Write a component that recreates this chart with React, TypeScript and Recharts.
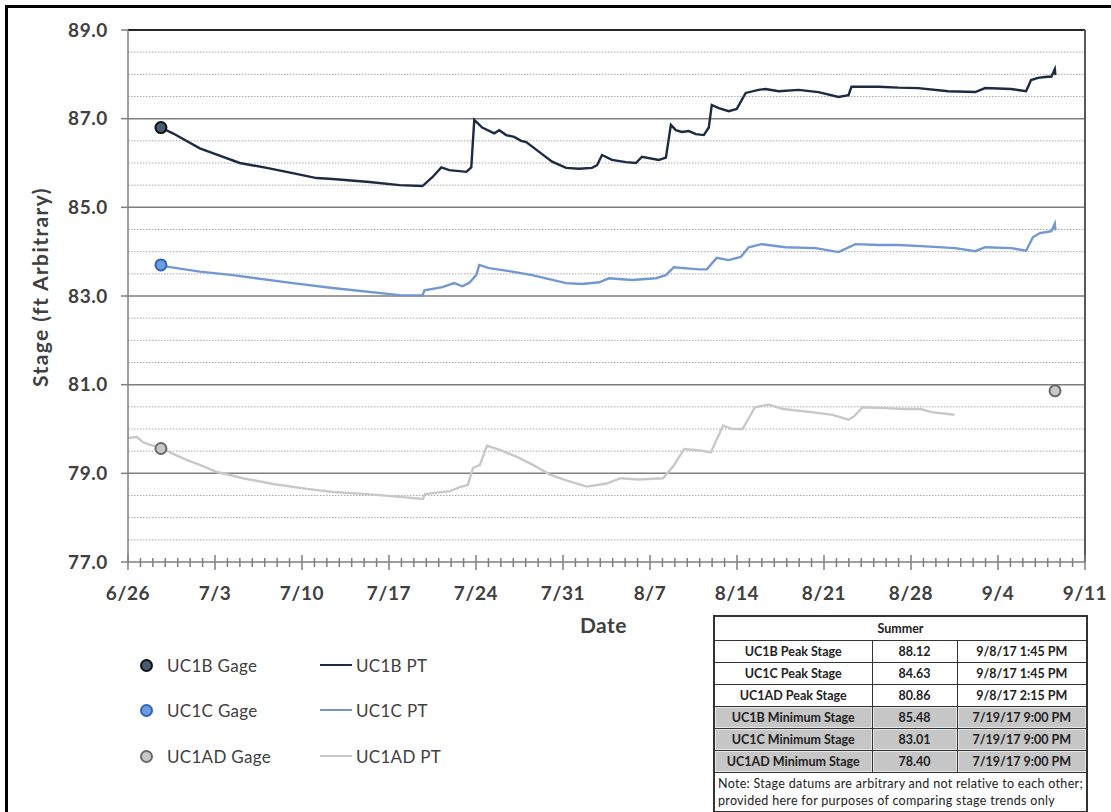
import React from 'react';
import { ComposedChart, Line, Scatter, XAxis, YAxis, CartesianGrid, ReferenceLine } from 'recharts';

// x values are days since 6/26/17
const dateLabels = ['6/26', '7/3', '7/10', '7/17', '7/24', '7/31', '8/7', '8/14', '8/21', '8/28', '9/4', '9/11'];
const dayTicks = Array.from({ length: 78 }, (_, i) => i);
const stageTicks = [77, 79, 81, 83, 85, 87, 89];
const gridStages = [77.5, 78, 78.5, 79, 79.5, 80, 80.5, 81, 81.5, 82, 82.5, 83, 83.5, 84, 84.5, 85, 85.5, 86, 86.5, 87, 87.5, 88, 88.5];

const uc1bDay = [2.71, 3.61, 5.78, 6.82, 8.99, 11.16, 13.25, 15.17, 16.46, 19.43, 21.84, 23.69, 24.49, 25.21, 25.85, 27.22, 27.62, 27.86, 28.5, 29.47, 29.87, 30.43, 31.07, 31.63, 32.04, 33.08, 34.12, 35.25, 36.29, 37.33, 37.74, 38.14, 38.94, 40.06, 40.87, 41.35, 42.71, 43.28, 43.68, 44.08, 44.56, 45.12, 45.69, 46.33, 46.73, 46.97, 47.53, 48.33, 48.98, 49.7, 50.74, 51.3, 52.35, 53.95, 55.56, 57.17, 57.97, 58.21, 60.38, 61.98, 63.59, 65.99, 68.17, 68.97, 71.06, 72.26, 72.66, 73.22, 73.78, 74.3, 74.57, 74.62];
const uc1bStage = [86.79, 86.67, 86.33, 86.22, 86.0, 85.89, 85.77, 85.66, 85.64, 85.57, 85.5, 85.48, 85.68, 85.9, 85.84, 85.8, 85.9, 86.97, 86.8, 86.67, 86.74, 86.63, 86.59, 86.5, 86.47, 86.25, 86.03, 85.89, 85.87, 85.89, 85.95, 86.18, 86.07, 86.02, 86.0, 86.14, 86.07, 86.12, 86.86, 86.74, 86.7, 86.72, 86.65, 86.63, 86.8, 87.31, 87.24, 87.17, 87.22, 87.58, 87.65, 87.67, 87.62, 87.65, 87.6, 87.49, 87.53, 87.72, 87.72, 87.7, 87.69, 87.62, 87.6, 87.69, 87.67, 87.62, 87.87, 87.92, 87.94, 87.95, 88.12, 87.98];

const uc1cDay = [2.71, 5.78, 8.43, 13.25, 16.46, 21.84, 23.69, 23.85, 25.29, 26.25, 26.9, 27.46, 28.02, 28.26, 29.06, 30.67, 32.52, 35.25, 36.53, 37.9, 38.7, 40.55, 42.47, 43.28, 43.92, 45.93, 46.57, 47.37, 48.33, 49.3, 49.94, 50.98, 52.91, 55.32, 57.17, 58.53, 60.38, 61.98, 64.15, 66.56, 68.17, 68.97, 71.06, 72.26, 72.82, 73.38, 74.03, 74.3, 74.57, 74.62];
const uc1cStage = [83.68, 83.55, 83.47, 83.29, 83.18, 83.02, 83.01, 83.13, 83.2, 83.29, 83.22, 83.3, 83.47, 83.7, 83.63, 83.56, 83.47, 83.29, 83.27, 83.31, 83.4, 83.36, 83.4, 83.47, 83.65, 83.6, 83.6, 83.86, 83.81, 83.88, 84.1, 84.17, 84.1, 84.08, 83.99, 84.17, 84.15, 84.15, 84.12, 84.08, 84.01, 84.1, 84.08, 84.02, 84.33, 84.42, 84.45, 84.46, 84.63, 84.48];

const uc1adDay = [0, 0.72, 1.21, 1.77, 2.57, 3.54, 4.75, 5.79, 7.16, 9.25, 11.67, 14.4, 16.49, 19.23, 21.88, 23.73, 23.89, 25.9, 26.71, 27.35, 27.76, 28.32, 28.88, 29.93, 31.3, 32.58, 33.95, 35.37, 36.93, 38.5, 39.64, 41.05, 43.05, 43.9, 44.75, 46.17, 46.89, 47.88, 48.59, 49.45, 50.44, 51.57, 52.71, 54.99, 56.69, 57.97, 58.4, 59.11, 60.96, 62.38, 63.8, 64.65, 66.5];
const uc1adStage = [79.8, 79.82, 79.7, 79.64, 79.59, 79.45, 79.3, 79.19, 79.03, 78.89, 78.76, 78.65, 78.58, 78.53, 78.47, 78.42, 78.53, 78.6, 78.69, 78.74, 79.12, 79.19, 79.62, 79.53, 79.37, 79.19, 78.97, 78.83, 78.7, 78.77, 78.89, 78.86, 78.89, 79.17, 79.55, 79.51, 79.47, 80.08, 80.0, 80.0, 80.49, 80.55, 80.45, 80.38, 80.32, 80.21, 80.28, 80.49, 80.47, 80.45, 80.45, 80.38, 80.32];

const uc1bGageDay = [2.65];
const uc1bGageStage = [86.8];
const uc1cGageDay = [2.65];
const uc1cGageStage = [83.7];
const uc1adGageDay = [2.65, 74.59];
const uc1adGageStage = [79.56, 80.86];

const summaryRows = [
  ['UC1B Peak Stage', '88.12', '9/8/17 1:45 PM'],
  ['UC1C Peak Stage', '84.63', '9/8/17 1:45 PM'],
  ['UC1AD Peak Stage', '80.86', '9/8/17 2:15 PM'],
  ['UC1B Minimum Stage', '85.48', '7/19/17 9:00 PM'],
  ['UC1C Minimum Stage', '83.01', '7/19/17 9:00 PM'],
  ['UC1AD Minimum Stage', '78.40', '7/19/17 9:00 PM'],
];

const toPoints = (days: number[], stage: number[]) => days.map((d, i) => ({ day: d, stage: stage[i] }));

const FONT = 'Lato, "Open Sans", sans-serif';
const TEXT = '#404040';

const DayTick = (props: any) => {
  const { x, y, payload } = props;
  const major = payload.value % 7 === 0;
  return (
    <g>
      <line x1={x} x2={x} y1={major ? y - 7 : y - 4} y2={major ? y + 8 : y + 5} stroke="#7f7f7f" strokeWidth={1.5} />
      {major && (
        <text x={x} y={y + 38} textAnchor="middle" fill={TEXT} fontSize={19} fontWeight={700} letterSpacing={0.6} fontFamily={FONT}>
          {dateLabels[payload.value / 7]}
        </text>
      )}
    </g>
  );
};

const YTitle = (props: any) => {
  const vb = props.viewBox || { x: 8, y: 30, width: 120, height: 530 };
  const cx = vb.x + 31;
  const cy = vb.y + vb.height / 2 - 9;
  return (
    <text x={cx} y={cy} transform={`rotate(-90 ${cx} ${cy})`} textAnchor="middle" dominantBaseline="central" fill={TEXT} fontSize={21} fontWeight={700} letterSpacing={1.4} fontFamily={FONT}>
      Stage (ft Arbitrary)
    </text>
  );
};

const XTitle = (props: any) => {
  const vb = props.viewBox || { x: 128, y: 560, width: 957, height: 50 };
  return (
    <text x={vb.x + vb.width / 2 - 3} y={vb.y + 71} textAnchor="middle" fill={TEXT} fontSize={21} fontWeight={700} letterSpacing={0.5} fontFamily={FONT}>
      Date
    </text>
  );
};

const gridLine = (p: any) => {
  const v = gridStages[p.index];
  const major = v % 2 === 1;
  return (
    <line key={p.key} x1={p.x1} x2={p.x2} y1={p.y1} y2={p.y2}
      stroke={major ? '#7f7f7f' : '#a8a8a8'} strokeWidth={major ? 1.5 : 1}
      strokeDasharray={major ? undefined : '1.5 1.5'} />
  );
};

const gageShape = (fill: string, stroke: string) => (p: any) => (
  <circle cx={p.cx} cy={p.cy} r={5.5} fill={fill} stroke={stroke} strokeWidth={2} />
);

const legendGage = [
  { name: 'UC1B Gage', fill: '#4a5b74', stroke: '#111111' },
  { name: 'UC1C Gage', fill: '#6f9be0', stroke: '#2f62c0' },
  { name: 'UC1AD Gage', fill: '#c8c8c8', stroke: '#6a6a6a' },
];
const legendPT = [
  { name: 'UC1B PT', color: '#1c2a44' },
  { name: 'UC1C PT', color: '#7397d2' },
  { name: 'UC1AD PT', color: '#c8c8c8' },
];
const legendRowY = [665, 710, 756];

export default function App() {
  const cell: React.CSSProperties = { border: '1px solid #333', height: 21, padding: 0, textAlign: 'center' };
  return (
    <div style={{ position: 'absolute', left: 0, top: 0, width: 1111, height: 812, overflow: 'hidden', background: '#fff', fontFamily: FONT }}>
      <div style={{ position: 'absolute', left: 5, top: 5, width: 1140, height: 840, border: '3px solid #000' }} />
      <div style={{ position: 'absolute', left: 0, top: 0 }}>
        <ComposedChart width={1111} height={640} margin={{ top: 30, right: 26, bottom: 28, left: 8 }}>
          <CartesianGrid vertical={false} horizontalValues={gridStages} horizontal={gridLine} />
          <XAxis type="number" dataKey="day" domain={[0, 77]} ticks={dayTicks} interval={0} allowDataOverflow
            tick={(p: any) => <DayTick {...p} />} tickLine={false} tickSize={0} tickMargin={0} height={50}
            axisLine={{ stroke: '#7f7f7f', strokeWidth: 1.5 }} label={<XTitle />} />
          <YAxis type="number" domain={[77, 89]} ticks={stageTicks} interval={0} allowDataOverflow width={120}
            tickFormatter={(v: number) => v.toFixed(1)}
            tick={{ fill: TEXT, fontSize: 19, fontWeight: 700, fontFamily: FONT, letterSpacing: 0.6 }}
            tickLine={{ stroke: '#7f7f7f', strokeWidth: 1.5 }} tickSize={7} tickMargin={13}
            axisLine={{ stroke: '#7f7f7f', strokeWidth: 1.5 }} label={<YTitle />} />
          <ReferenceLine y={89} stroke="#262626" strokeWidth={2} />
          <ReferenceLine x={77} stroke="#595959" strokeWidth={2} />
          <Line data={toPoints(uc1adDay, uc1adStage)} dataKey="stage" type="linear" stroke="#c8c8c8" strokeWidth={2.4} dot={false} isAnimationActive={false} />
          <Line data={toPoints(uc1cDay, uc1cStage)} dataKey="stage" type="linear" stroke="#7397d2" strokeWidth={2.4} dot={false} isAnimationActive={false} />
          <Line data={toPoints(uc1bDay, uc1bStage)} dataKey="stage" type="linear" stroke="#1c2a44" strokeWidth={2.4} dot={false} isAnimationActive={false} />
          <Scatter data={toPoints(uc1bGageDay, uc1bGageStage)} dataKey="stage" shape={gageShape('#4a5b74', '#111111')} isAnimationActive={false} />
          <Scatter data={toPoints(uc1cGageDay, uc1cGageStage)} dataKey="stage" shape={gageShape('#6f9be0', '#2f62c0')} isAnimationActive={false} />
          <Scatter data={toPoints(uc1adGageDay, uc1adGageStage)} dataKey="stage" shape={gageShape('#c8c8c8', '#6a6a6a')} isAnimationActive={false} />
        </ComposedChart>
      </div>

      {legendGage.map((g, i) => (
        <div key={g.name} style={{ position: 'absolute', left: 140, top: legendRowY[i] - 12, height: 24, display: 'flex', alignItems: 'center' }}>
          <span style={{ width: 9, height: 9, borderRadius: '50%', background: g.fill, border: `2px solid ${g.stroke}`, display: 'inline-block' }} />
          <span style={{ marginLeft: 14, fontSize: 17, color: TEXT, letterSpacing: 0.3 }}>{g.name}</span>
        </div>
      ))}
      {legendPT.map((l, i) => (
        <div key={l.name} style={{ position: 'absolute', left: 320, top: legendRowY[i] - 12, height: 24, display: 'flex', alignItems: 'center' }}>
          <span style={{ width: 32, height: 2.5, background: l.color, display: 'inline-block' }} />
          <span style={{ marginLeft: 4, fontSize: 17, color: TEXT, letterSpacing: 0.3 }}>{l.name}</span>
        </div>
      ))}

      <table style={{ position: 'absolute', left: 713, top: 615, width: 373, borderCollapse: 'collapse', border: '2px solid #333', fontSize: 12.5, fontWeight: 700, color: '#222', tableLayout: 'fixed' }}>
        <colgroup>
          <col style={{ width: 158 }} />
          <col style={{ width: 85 }} />
          <col style={{ width: 130 }} />
        </colgroup>
        <tbody>
          <tr>
            <td colSpan={3} style={{ ...cell, height: 23 }}>Summer</td>
          </tr>
          {summaryRows.map((r, i) => {
            const grey = i >= 3;
            const c = grey ? { ...cell, background: '#c6c6c6', boxShadow: 'inset 0 0 0 1px #e6e6e6' } : cell;
            return (
              <tr key={r[0]}>
                <td style={c}>{r[0]}</td>
                <td style={c}>{r[1]}</td>
                <td style={c}>{r[2]}</td>
              </tr>
            );
          })}
          <tr>
            <td colSpan={3} style={{ border: '1px solid #333', padding: '2px 3px', fontSize: 12.5, fontWeight: 400, lineHeight: '17px', letterSpacing: 0.3, textAlign: 'left' }}>
              Note: Stage datums are arbitrary and not relative to each other; provided here for purposes of comparing stage trends only
            </td>
          </tr>
        </tbody>
      </table>
    </div>
  );
}
